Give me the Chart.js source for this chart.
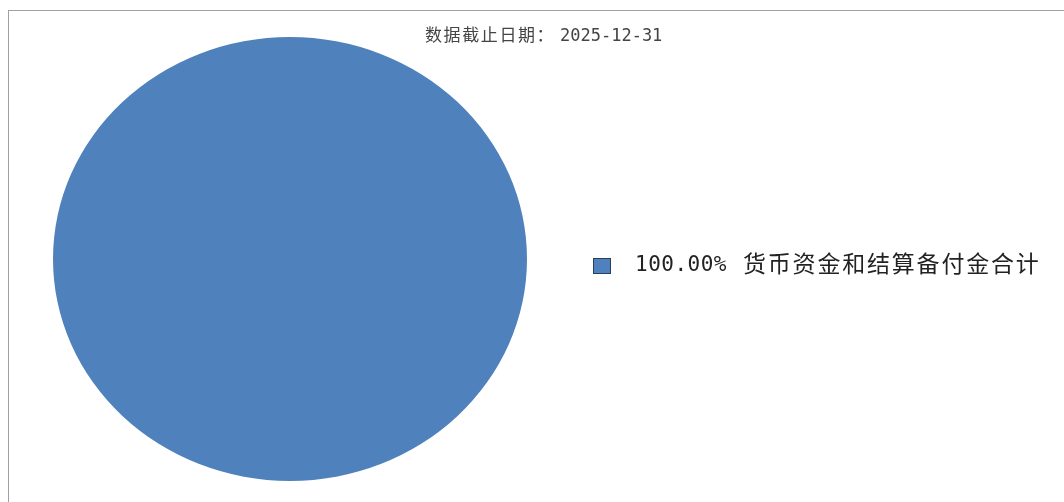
<!DOCTYPE html>
<html>
<head>
<meta charset="utf-8">
<script src="https://cdn.jsdelivr.net/npm/chart.js@4/dist/chart.umd.min.js"></script>
<style>
  html, body { margin: 0; padding: 0; background: #fff; }
  #box {
    position: absolute; left: 8px; top: 10px;
    width: 1056px; height: 492px;
    border-left: 1px solid #a0a0a0; border-top: 1px solid #a0a0a0;
  }
  #myChart { display: block; }
</style>
</head>
<body>
<div id="box"><canvas id="myChart" width="1055" height="491"></canvas></div>
<script>
// chart data
const titleText = '数据截止日期：2025-12-31';
const labels = ['货币资金和结算备付金合计'];
const values = [100.00];
const colors = ['#4f81bd'];

const total = values.reduce((a, b) => a + b, 0);
const percents = values.map(v => (v / total * 100).toFixed(2) + '%');

// the reference pie is slightly squashed vertically
const squash = {
  id: 'squash',
  beforeDatasetsDraw(chart) {
    const arc = chart.getDatasetMeta(0).data[0];
    const ctx = chart.ctx;
    ctx.save();
    ctx.translate(arc.x, arc.y);
    ctx.scale(1, 222 / 237);
    ctx.translate(-arc.x, -arc.y);
  },
  afterDatasetsDraw(chart) {
    chart.ctx.restore();
  }
};

// title and legend drawn like the original report image
const texts = {
  id: 'texts',
  afterDraw(chart) {
    const ctx = chart.ctx;
    ctx.save();
    ctx.textBaseline = 'middle';
    ctx.textAlign = 'left';

    // title: chinese part a bit wider than the date part
    const cut = titleText.indexOf('：') + 1;
    ctx.fillStyle = '#444';
    ctx.font = '17px "DejaVu Sans Mono", "Noto Sans CJK SC"';
    ctx.letterSpacing = '1.6px';
    ctx.fillText(titleText.slice(0, cut), 416, 26);
    ctx.letterSpacing = '0px';
    ctx.fillText(titleText.slice(cut), 551, 26);

    labels.forEach((lab, i) => {
      const y = 255 + i * 30;
      ctx.fillStyle = colors[i];
      ctx.fillRect(584, y - 8, 18, 16);
      ctx.strokeStyle = '#2a3f5c';
      ctx.lineWidth = 1;
      ctx.strokeRect(584.5, y - 7.5, 17, 15);
      ctx.fillStyle = '#222';
      ctx.font = '21px "DejaVu Sans Mono", "Noto Sans CJK SC"';
      ctx.letterSpacing = '0.5px';
      ctx.fillText(percents[i], 626, y);
      ctx.font = '23px "DejaVu Sans Mono", "Noto Sans CJK SC"';
      ctx.letterSpacing = '1.8px';
      ctx.fillText(lab, 734, y);
      ctx.letterSpacing = '0px';
    });
    ctx.restore();
  }
};

let ctx = document.getElementById('myChart').getContext('2d');
let chart = new Chart(ctx, {
  type: 'pie',
  data: {
    labels: labels,
    datasets: [
      {
        data: values,
        backgroundColor: colors,
        borderWidth: 0
      }
    ]
  },
  options: {
    responsive: false,
    animation: false,
    layout: { padding: { left: 44, right: 537, top: 11, bottom: 6 } },
    plugins: {
      legend: { display: false },
      title: { display: false },
      tooltip: { enabled: false }
    }
  },
  plugins: [squash, texts]
});
</script>
</body>
</html>
